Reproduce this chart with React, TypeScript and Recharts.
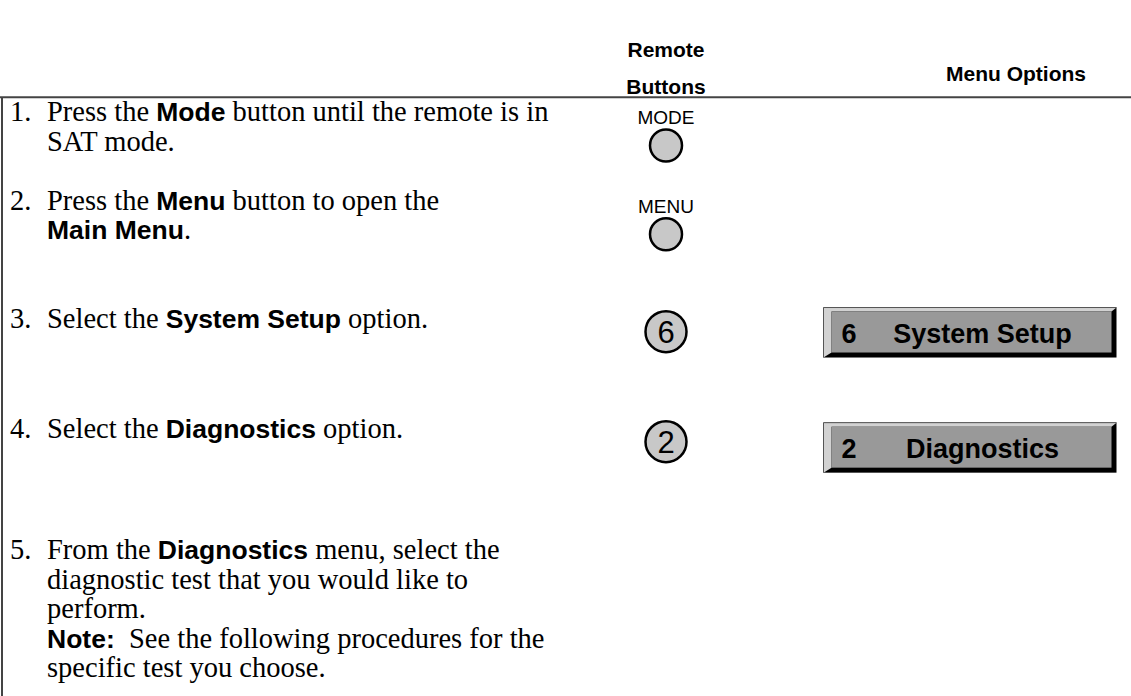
import { ScatterChart, Scatter, XAxis, YAxis, ReferenceLine } from "recharts"

const SERIF = "'Liberation Serif', 'Times New Roman', serif"
const SANS = "'Liberation Sans', Arial, sans-serif"

// --- data ---
const headers = ["Remote\nButtons", "Menu Options"]

// **...** marks the bold (sans) runs
const stepText: string[][] = [
  ["Press the **Mode** button until the remote is in", "SAT mode."],
  ["Press the **Menu** button to open the", "**Main Menu**."],
  ["Select the **System Setup** option."],
  ["Select the **Diagnostics** option."],
  [
    "From the **Diagnostics** menu, select the",
    "diagnostic test that you would like to",
    "perform.",
    "**Note:**  See the following procedures for the",
    "specific test you choose.",
  ],
]
const remoteButtons = ["MODE", "MENU", "6", "2", ""]
const menuKeys = ["", "", "6", "2", ""]
const menuLabels = ["", "", "System Setup", "Diagnostics", ""]

// --- layout (x in px, y in text-line units) ---
const LINE_PX = 29.6
const FIRST_LINE_PX = 112
const Y_MIN = -FIRST_LINE_PX / LINE_PX
const Y_MAX = (696 - FIRST_LINE_PX) / LINE_PX
const ROW_START = [0, 3, 7, 10.72, 14.8]
const MENU_DY = [0, 0, 0.45, 0.62, 0]
const COL = { num: 10, text: 47, button: 666, menu: 970, rule: 2 }
const HEADER_Y = [-1.47, -1.28]
const RULE_Y = -0.5

const headerPts = headers.map((h, i) => ({
  x: i === 0 ? COL.button : 1016,
  y: HEADER_Y[i],
  lines: h.split("\n"),
}))
const numberPts = stepText.map((_, i) => ({ x: COL.num, y: ROW_START[i], label: `${i + 1}.` }))
const textPts = stepText.flatMap((lines, i) =>
  lines.map((text, j) => ({ x: COL.text, y: ROW_START[i] + j, text }))
)
const buttonPts = remoteButtons
  .map((label, i) => ({ x: COL.button, y: ROW_START[i] + (label.length > 1 ? 1.13 : 0.42), label }))
  .filter((d) => d.label)
const menuPts = menuLabels
  .map((label, i) => ({ x: COL.menu, y: ROW_START[i] + MENU_DY[i], key: menuKeys[i], label }))
  .filter((d) => d.label)

function HeaderShape(props: any) {
  const { cx, cy, payload } = props
  const n = payload.lines.length
  return (
    <text textAnchor="middle" fontFamily={SANS} fontWeight={700} fontSize={21} fill="#000">
      {payload.lines.map((l: string, i: number) => (
        <tspan key={i} x={cx} y={cy + 7 + (i - (n - 1) / 2) * 37}>{l}</tspan>
      ))}
    </text>
  )
}

function NumberShape(props: any) {
  const { cx, cy, payload } = props
  return (
    <text x={cx} y={cy + 9} fontFamily={SERIF} fontSize={28.5} fill="#000">{payload.label}</text>
  )
}

function LineShape(props: any) {
  const { cx, cy, payload } = props
  const parts: string[] = payload.text.split("**")
  return (
    <text x={cx} y={cy + 9} fill="#000" style={{ whiteSpace: "pre" }}>
      {parts.map((p, i) =>
        i % 2 ? (
          <tspan key={i} fontFamily={SANS} fontWeight={700} fontSize={26.5}>{p}</tspan>
        ) : (
          <tspan key={i} fontFamily={SERIF} fontSize={28.5}>{p}</tspan>
        )
      )}
    </text>
  )
}

function ButtonShape(props: any) {
  const { cx, cy, payload } = props
  if (payload.label.length > 1) {
    return (
      <g>
        <text x={cx} y={cy - 21} textAnchor="middle" fontFamily={SANS} fontSize={19} fill="#000">
          {payload.label}
        </text>
        <circle cx={cx} cy={cy} r={16} fill="#c8c8c8" stroke="#000" strokeWidth={2.5} />
      </g>
    )
  }
  return (
    <g>
      <circle cx={cx} cy={cy} r={20.5} fill="#c8c8c8" stroke="#000" strokeWidth={2.5} />
      <text x={cx} y={cy + 11} textAnchor="middle" fontFamily={SANS} fontSize={31} fill="#000">
        {payload.label}
      </text>
    </g>
  )
}

function MenuShape(props: any) {
  const { cx, cy, payload } = props
  const w = 293
  const h = 50
  const x0 = cx - w / 2
  const y0 = cy - h / 2
  const x1 = x0 + w
  const y1 = y0 + h
  const light = `${x0},${y0} ${x1},${y0} ${x1 - 5},${y0 + 4} ${x0 + 8},${y0 + 4} ${x0 + 8},${y1 - 5} ${x0},${y1}`
  return (
    <g>
      <rect x={x0} y={y0} width={w} height={h} fill="#000" />
      <polygon points={light} fill="#d2d2d2" />
      <rect x={x0 + 8} y={y0 + 4} width={w - 13} height={h - 9} fill="#999" />
      <polyline points={`${x0},${y1} ${x0},${y0} ${x1},${y0}`} fill="none" stroke="#555" strokeWidth={1} />
      <text x={x0 + 18} y={cy + 10} fontFamily={SANS} fontWeight={700} fontSize={27} fill="#000">
        {payload.key}
      </text>
      <text x={x0 + 159} y={cy + 10} textAnchor="middle" fontFamily={SANS} fontWeight={700} fontSize={27} fill="#000">
        {payload.label}
      </text>
    </g>
  )
}

export default function App() {
  return (
    <div style={{ position: "absolute", left: 0, top: 0, width: 1131, height: 696, background: "#fff" }}>
      <ScatterChart width={1131} height={696} margin={{ top: 0, right: 0, bottom: 0, left: 0 }}>
        <XAxis type="number" dataKey="x" domain={[0, 1131]} hide />
        <YAxis type="number" dataKey="y" domain={[Y_MIN, Y_MAX]} reversed hide />
        <ReferenceLine y={RULE_Y} stroke="#444" strokeWidth={2} />
        <ReferenceLine
          segment={[{ x: COL.rule, y: RULE_Y }, { x: COL.rule, y: Y_MAX }]}
          stroke="#444"
          strokeWidth={2}
        />
        <Scatter data={headerPts} shape={HeaderShape} isAnimationActive={false} />
        <Scatter data={numberPts} shape={NumberShape} isAnimationActive={false} />
        <Scatter data={textPts} shape={LineShape} isAnimationActive={false} />
        <Scatter data={buttonPts} shape={ButtonShape} isAnimationActive={false} />
        <Scatter data={menuPts} shape={MenuShape} isAnimationActive={false} />
      </ScatterChart>
    </div>
  )
}
